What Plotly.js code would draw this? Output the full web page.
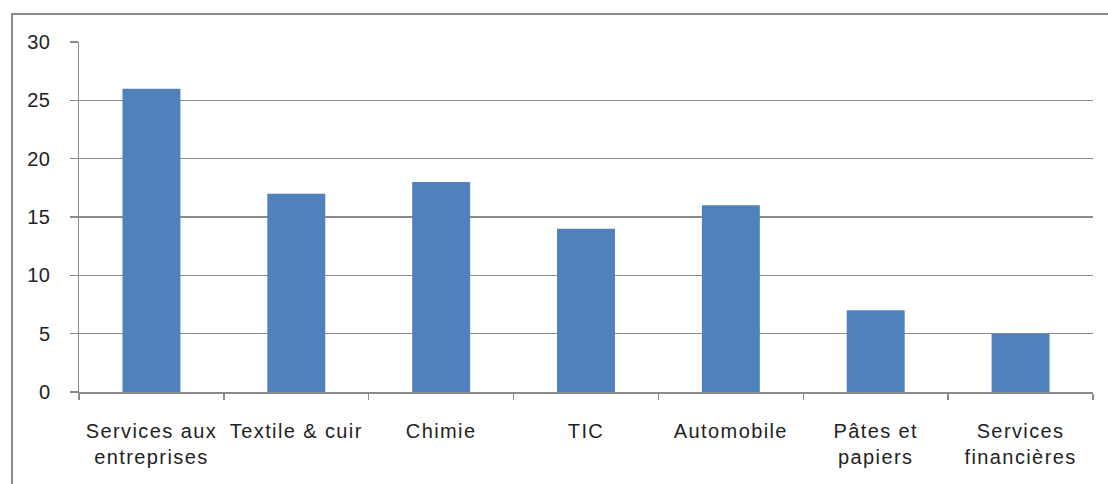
<!DOCTYPE html>
<html>
<head>
<meta charset="utf-8">
<script src="https://cdn.plot.ly/plotly-3.0.1.min.js"></script>
<style>
html,body{margin:0;padding:0;background:#fff;overflow:hidden;}
#frame{position:absolute;left:11px;top:13px;width:1200px;height:600px;border-left:2px solid #8a8a8a;border-top:2px solid #8a8a8a;}
#chart{position:absolute;left:0;top:0;width:1108px;height:484px;}
#chart .xtick text{letter-spacing:1.4px;}
#chart .ytick text{letter-spacing:0.5px;}
</style>
</head>
<body>
<div id="frame"></div>
<div id="chart"></div>
<script>
const categories = ["Services aux<br>entreprises", "Textile & cuir", "Chimie", "TIC", "Automobile", "Pâtes et<br>papiers", "Services<br>financières"];
const values = [26, 17, 18, 14, 16, 7, 5];
const yTicks = [0, 5, 10, 15, 20, 25, 30];

const font = {family: "Liberation Sans, Arial, sans-serif", size: 20, color: "#222222"};

Plotly.newPlot("chart", [{
  type: "bar",
  x: categories,
  y: values,
  marker: {color: "#4F81BD"},
  hoverinfo: "none"
}], {
  width: 1108, height: 484,
  margin: {l: 79, r: 15, t: 42, b: 92},
  paper_bgcolor: "rgba(0,0,0,0)",
  plot_bgcolor: "rgba(0,0,0,0)",
  bargap: 0.6,
  showlegend: false,
  font: font,
  xaxis: {
    type: "category",
    showline: true, linecolor: "#8a8a8a", linewidth: 1.5,
    ticks: "outside", tickson: "boundaries", ticklen: 6, tickcolor: "#8a8a8a", tickwidth: 1.5,
    showgrid: false,
    tickangle: 0,
    ticklabelstandoff: 20,
    tickfont: font
  },
  yaxis: {
    range: [0, 30],
    tickvals: yTicks,
    ticktext: yTicks.map(String),
    showline: true, linecolor: "#8a8a8a", linewidth: 1.5,
    ticks: "outside", ticklen: 8, tickcolor: "#8a8a8a", tickwidth: 1.5,
    showgrid: true, gridcolor: "#8a8a8a", gridwidth: 1.5,
    zeroline: false,
    ticklabelstandoff: 15,
    tickfont: font
  }
}, {staticPlot: true});
</script>
</body>
</html>
